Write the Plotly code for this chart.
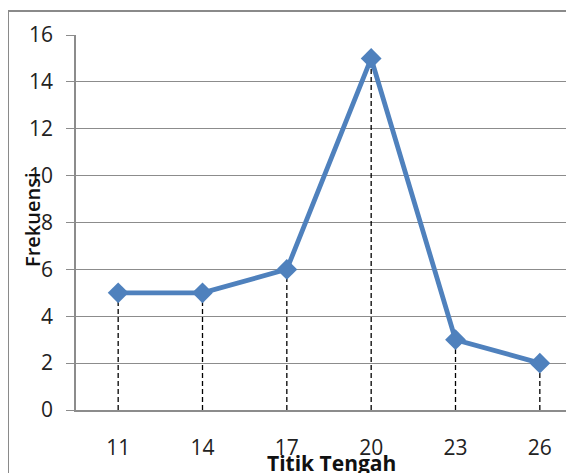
import plotly.graph_objects as go

categories = ["11", "14", "17", "20", "23", "26"]
frekuensi = [5, 5, 6, 15, 3, 2]
y_ticks = [0, 2, 4, 6, 8, 10, 12, 14, 16]

# page has an 8px body margin, so figure coordinates are page - 8
OFF = 8
W, H = 574, 473
L, T = 76 - OFF, 35 - OFF
R = 0
B = H - (410 - OFF)
PW, PH = W - L - R, H - T - B


def px(x):
    return (x - OFF - L) / PW


def py(y):
    return (H - B - (y - OFF)) / PH


drop_x, drop_y = [], []
for c, v in zip(categories, frekuensi):
    drop_x += [c, c, None]
    drop_y += [0, v, None]

fig = go.Figure()
fig.add_trace(go.Scatter(
    x=drop_x, y=drop_y, mode="lines",
    line=dict(color="black", width=1.3, dash="5px,3px"),
    hoverinfo="skip", showlegend=False,
))
fig.add_trace(go.Scatter(
    x=categories, y=frekuensi, mode="lines+markers",
    line=dict(color="#4F81BD", width=4.8),
    marker=dict(symbol="diamond", size=16, color="#4F81BD"),
    cliponaxis=False, showlegend=False,
))

grid = "#8c8c8c"
font = "Open Sans, Liberation Sans, sans-serif"
tickfont = dict(family=font, size=21, color="#222222")
fig.update_layout(
    width=W, height=H,
    margin=dict(l=L, r=R, t=T, b=B, pad=0, autoexpand=False),
    paper_bgcolor="white", plot_bgcolor="white",
    font=dict(family=font, size=20, color="#222222"),
    xaxis=dict(
        type="category", categoryorder="array", categoryarray=categories,
        range=[-0.5, 5.5], showgrid=False, zeroline=False,
        showline=True, linecolor=grid, linewidth=1.5, automargin=False,
        ticks="", ticklabelstandoff=18, tickfont=tickfont,
    ),
    yaxis=dict(
        range=[0, 16], tickvals=y_ticks, showgrid=True, gridcolor=grid,
        gridwidth=1.2, zeroline=False, showline=True, linecolor=grid,
        linewidth=1.5, ticks="outside", ticklen=8, tickcolor=grid,
        tickwidth=1.2, ticklabelstandoff=9, automargin=False,
        tickfont=tickfont,
    ),
    annotations=[
        dict(text="Frekuensi", xref="paper", yref="paper",
             x=px(33), y=py(220), textangle=-90, showarrow=False,
             font=dict(family=font, size=20, color="#111111", weight=600),
             xanchor="center", yanchor="middle"),
        dict(text="<b>Titik Tengah</b>", xref="paper", yref="paper",
             x=px(331), y=py(463),
             showarrow=False, font=dict(family=font, size=21, color="#111111"),
             xanchor="center", yanchor="middle"),
    ],
    shapes=[
        dict(type="line", xref="paper", yref="paper",
             x0=px(8), x1=px(8), y0=py(11), y1=py(490),
             line=dict(color="#8a8a8a", width=2)),
        dict(type="line", xref="paper", yref="paper",
             x0=px(8), x1=1.05, y0=py(11), y1=py(11),
             line=dict(color="#8a8a8a", width=2)),
    ],
)

fig.write_html("out.html")
